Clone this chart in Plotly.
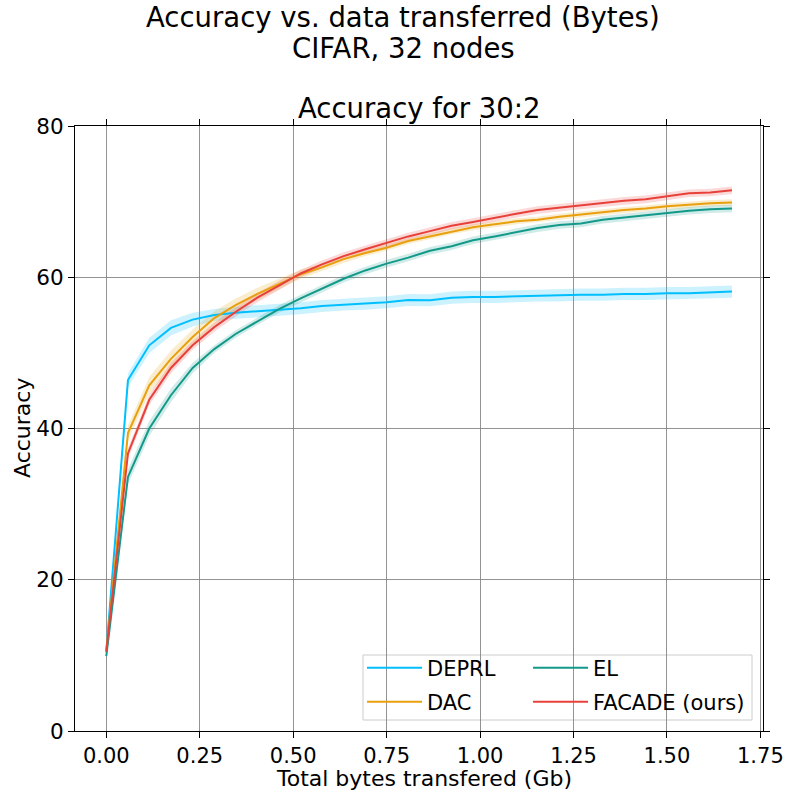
import plotly.graph_objects as go

# ---- data ----
x_gb = [0.000, 0.058, 0.115, 0.173, 0.231, 0.289, 0.346, 0.404, 0.462, 0.520,
        0.577, 0.635, 0.693, 0.750, 0.808, 0.866, 0.924, 0.981, 1.039, 1.097,
        1.154, 1.212, 1.270, 1.328, 1.385, 1.443, 1.501, 1.559, 1.616, 1.674]

deprl = [10.5, 46.4, 51.0, 53.3, 54.4, 55.0, 55.3, 55.5, 55.7, 55.9,
         56.2, 56.4, 56.5, 56.7, 57.0, 56.95, 57.3, 57.4, 57.4, 57.5,
         57.6, 57.6, 57.7, 57.7, 57.8, 57.8, 57.9, 57.9, 58.0, 58.1]
deprl_std = [0.5, 0.9, 1.0, 1.0, 0.9, 0.8, 0.8, 0.8, 0.8, 0.8,
             0.8, 0.8, 0.8, 0.8, 0.8, 0.8, 0.8, 0.8, 0.8, 0.8,
             0.8, 0.8, 0.8, 0.8, 0.8, 0.8, 0.8, 0.8, 0.8, 0.8]

dac = [10.5, 39.4, 45.7, 49.2, 52.1, 54.6, 56.3, 57.8, 59.1, 60.4,
       61.3, 62.4, 63.2, 63.9, 64.8, 65.4, 66.1, 66.6, 67.0, 67.4,
       67.6, 68.0, 68.3, 68.6, 68.9, 69.1, 69.4, 69.6, 69.8, 69.9]
dac_std = [0.5, 1.0, 1.1, 1.1, 1.0, 0.9, 0.9, 0.8, 0.7, 0.6,
           0.5, 0.5, 0.4, 0.4, 0.4, 0.4, 0.4, 0.4, 0.4, 0.4,
           0.4, 0.4, 0.4, 0.4, 0.4, 0.4, 0.4, 0.4, 0.4, 0.4]

el = [9.9, 33.6, 40.0, 44.4, 48.0, 50.5, 52.5, 54.2, 55.8, 57.2,
      58.5, 59.8, 60.9, 61.8, 62.6, 63.5, 64.1, 64.9, 65.4, 66.0,
      66.5, 66.9, 67.1, 67.6, 67.9, 68.2, 68.5, 68.8, 69.0, 69.1]
el_std = [0.5, 1.0, 1.0, 0.9, 0.7, 0.5, 0.5, 0.5, 0.5, 0.5,
          0.5, 0.5, 0.5, 0.5, 0.5, 0.5, 0.5, 0.5, 0.5, 0.5,
          0.5, 0.5, 0.5, 0.5, 0.5, 0.5, 0.5, 0.5, 0.5, 0.5]

facade = [10.5, 36.7, 43.8, 48.0, 51.0, 53.4, 55.4, 57.3, 58.9, 60.5,
          61.7, 62.8, 63.7, 64.5, 65.4, 66.1, 66.8, 67.3, 67.9, 68.4,
          68.9, 69.2, 69.5, 69.8, 70.1, 70.3, 70.7, 71.1, 71.2, 71.5]
facade_std = [0.5, 0.7, 0.7, 0.7, 0.6, 0.6, 0.6, 0.6, 0.6, 0.5,
              0.5, 0.5, 0.5, 0.5, 0.5, 0.5, 0.5, 0.5, 0.5, 0.5,
              0.5, 0.5, 0.5, 0.5, 0.5, 0.5, 0.5, 0.5, 0.5, 0.5]

series_names = ["DEPRL", "DAC", "EL", "FACADE (ours)"]
series_vals = [deprl, dac, el, facade]
series_std = [deprl_std, dac_std, el_std, facade_std]
colors = ["#00BFFF", "#E8A00E", "#13998A", "#E8413A"]
fills = ["rgba(0,191,255,0.2)", "rgba(232,160,14,0.2)",
         "rgba(19,153,138,0.2)", "rgba(232,65,58,0.2)"]
legend_ids = ["legend", "legend3", "legend2", "legend4"]

W, H = 788, 792
L, R, T, B = 75, 763, 126, 731
pw, ph = R - L, B - T

def px_x(p):
    return (p - L) / pw

def px_y(p):
    return (B - p) / ph

fig = go.Figure()

for name, v, s, c, f in zip(series_names, series_vals, series_std, colors, fills):
    up = [a + b for a, b in zip(v, s)]
    lo = [a - b for a, b in zip(v, s)]
    fig.add_trace(go.Scatter(
        x=x_gb + x_gb[::-1], y=up + lo[::-1], fill="toself", fillcolor=f,
        line=dict(width=0, color=f), mode="lines", hoverinfo="skip",
        showlegend=False))

for name, v, c, lg in zip(series_names, series_vals, colors, legend_ids):
    fig.add_trace(go.Scatter(
        x=x_gb, y=v, mode="lines", name=name,
        line=dict(color=c, width=2), legend=lg))

FONT = "DejaVu Sans"
leg_font = dict(family=FONT, size=21, color="black")

def leg(xp, yp):
    return dict(x=px_x(xp), y=px_y(yp), xanchor="left", yanchor="middle",
                bgcolor="rgba(0,0,0,0)", borderwidth=0, font=leg_font,
                itemwidth=55)

fig.update_layout(
    width=W, height=H,
    margin=dict(l=L, r=W - R, t=T, b=H - B, pad=0, autoexpand=False),
    paper_bgcolor="white", plot_bgcolor="white",
    font=dict(family=FONT, color="black"),
    legend=leg(362, 668),
    legend2=leg(528, 668),
    legend3=leg(362, 702),
    legend4=leg(528, 702),
    xaxis=dict(
        range=[-0.0837, 1.757], tickmode="linear", tick0=0, dtick=0.25,
        tickformat=".2f", ticks="outside", ticklen=6, tickwidth=1,
        tickcolor="black", showline=True, linecolor="black", linewidth=1,
        mirror="ticks", showgrid=True, gridcolor="rgba(128,128,128,0.85)",
        gridwidth=1, zeroline=False, automargin=False,
        tickfont=dict(family=FONT, size=21),
    ),
    yaxis=dict(
        range=[0, 80], tickmode="linear", tick0=0, dtick=20,
        ticks="outside", ticklen=6, tickwidth=1, tickcolor="black",
        showline=True, linecolor="black", linewidth=1, mirror="ticks",
        showgrid=True, gridcolor="rgba(128,128,128,0.85)", gridwidth=1,
        zeroline=False, automargin=False,
        tickfont=dict(family=FONT, size=21.5),
    ),
    shapes=[dict(type="rect", xref="paper", yref="paper",
                 x0=px_x(363), x1=px_x(752), y0=px_y(720), y1=px_y(655),
                 line=dict(color="#cccccc", width=1),
                 fillcolor="rgba(255,255,255,0.8)", layer="between")],
    annotations=[
        dict(text="Accuracy vs. data transferred (Bytes)", xref="paper",
             yref="paper", x=px_x(403), y=px_y(17), xanchor="center",
             yanchor="middle", showarrow=False,
             font=dict(family=FONT, size=27.5)),
        dict(text="CIFAR, 32 nodes", xref="paper", yref="paper",
             x=px_x(403), y=px_y(48), xanchor="center", yanchor="middle",
             showarrow=False, font=dict(family=FONT, size=27.5)),
        dict(text="Accuracy for 30:2", xref="paper", yref="paper",
             x=0.5, y=px_y(108), xanchor="center", yanchor="middle",
             showarrow=False, font=dict(family=FONT, size=27.5)),
        dict(text="Total bytes transfered (Gb)", xref="paper", yref="paper",
             x=px_x(424), y=px_y(778), xanchor="center", yanchor="middle",
             showarrow=False, font=dict(family=FONT, size=22)),
        dict(text="Accuracy", xref="paper", yref="paper", textangle=-90,
             x=px_x(22), y=px_y(428), xanchor="center", yanchor="middle",
             showarrow=False, font=dict(family=FONT, size=22)),
    ],
)

fig.write_html("out.html", config={"displayModeBar": False},
               post_script="document.body.style.margin='0';"
                           "document.body.style.overflow='hidden';")
